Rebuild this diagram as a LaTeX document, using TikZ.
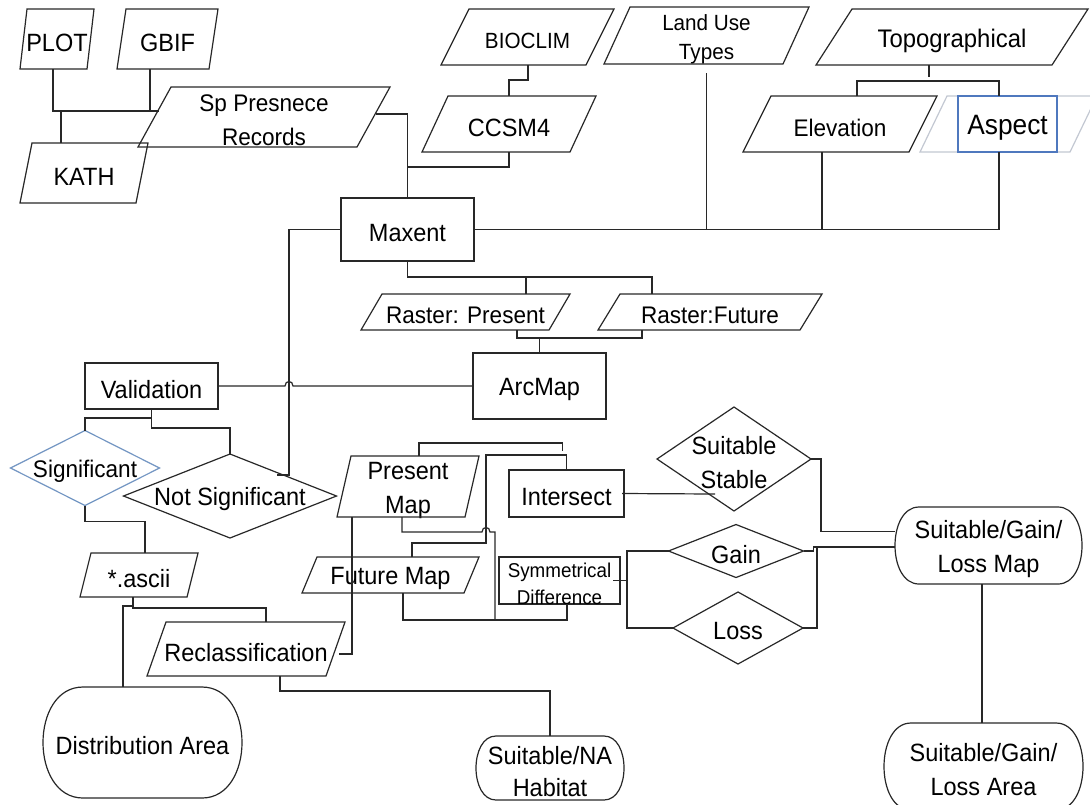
\documentclass[tikz,border=0pt]{standalone}
\usepackage{fontspec}
\setmainfont{Liberation Sans}[FakeStretch=0.94]
\usetikzlibrary{calc}
\definecolor{linec}{RGB}{40,40,40}
\definecolor{aspblue}{RGB}{79,120,190}
\definecolor{aspgray}{RGB}{195,200,210}
\definecolor{sigblue}{RGB}{115,150,195}
\newcommand\FS[2]{\fontsize{#1pt}{#2pt}\selectfont}
\tikzset{
  conn/.style={draw=linec, line width=0.6pt},
  pline/.style={draw=linec, line width=0.6pt},
  sbox/.style={inner sep=0pt, outer sep=0pt, draw=none},
  tbox/.style={inner sep=0pt, outer sep=0pt, align=center, text=black, font={\FS{12.5}{17}}},
}
% parallelogram: [opts]{name}{x1}{y1}{x2}{y2}{slant}{text}
\newcommand\PNode[8][]{%
  \node[sbox,minimum width={(#5-#3)*0.5pt},minimum height={(#6-#4)*0.5pt}] (#2) at ({(#3+#5)/2},{(#4+#6)/2}) {};
  \node[tbox,#1,draw=none] (#2-t) at ([yshift=-1.75pt]#2.center) {#8};
  \draw[pline,#1] ([shift={(#7,0)}]#2.north west) -- (#2.north east) -- ([shift={(-#7,0)}]#2.south east) -- (#2.south west) -- cycle;
}
% rectangle: [opts]{name}{x1}{y1}{x2}{y2}{text}
\newcommand\RNode[7][]{%
  \node[sbox,draw=linec,line width=0.6pt,#1,minimum width={(#5-#3)*0.5pt},minimum height={(#6-#4)*0.5pt}] (#2) at ({(#3+#5)/2},{(#4+#6)/2}) {};
  \node[tbox,#1,draw=none] (#2-t) at ([yshift=-1.75pt]#2.center) {#7};
}
% diamond: [opts]{name}{cx}{cy}{w}{h}{text}
\newcommand\DNode[7][]{%
  \node[sbox,minimum width={#5*0.5pt},minimum height={#6*0.5pt}] (#2) at (#3,#4) {};
  \node[tbox,#1,draw=none] (#2-t) at ([yshift=-1.75pt]#2.center) {#7};
  \draw[pline,#1] (#2.north) -- (#2.east) -- (#2.south) -- (#2.west) -- cycle;
}
% terminator: [opts]{name}{x1}{y1}{x2}{y2}{rx}{text}
\newcommand\TNode[8][]{%
  \node[sbox,minimum width={(#5-#3)*0.5pt},minimum height={(#6-#4)*0.5pt}] (#2) at ({(#3+#5)/2},{(#4+#6)/2}) {};
  \node[tbox,#1,draw=none] (#2-t) at ([yshift=-1.75pt]#2.center) {#8};
  \draw[pline,#1] ([shift={(#7,0)}]#2.north west) -- ([shift={(-#7,0)}]#2.north east)
    .. controls ([shift={(#7/3,0)}]#2.north east) and ([shift={(#7/3,0)}]#2.south east) .. ([shift={(-#7,0)}]#2.south east)
    -- ([shift={(#7,0)}]#2.south west)
    .. controls ([shift={(-#7/3,0)}]#2.south west) and ([shift={(-#7/3,0)}]#2.north west) .. cycle;
}
\begin{document}
\begin{tikzpicture}[x=0.5pt,y=-0.5pt]
\useasboundingbox (0,0) rectangle (1090,804);
\fill[white] (0,0) rectangle (1090,804);
\clip (0,0) rectangle (1090,804);

% ---------- nodes ----------
\PNode{plot}{20}{9}{94}{69}{7}{PLOT}
\PNode{gbif}{117}{9}{218}{69}{9}{GBIF}
\PNode[font={\FS{12}{17}}]{sp}{138}{87}{390}{147}{33}{Sp Presnece\\Records}
\PNode{kath}{20}{143}{148}{203}{12}{KATH}
\PNode[font={\FS{11}{14}}]{bioclim}{441}{9}{614}{65}{28}{BIOCLIM}
\PNode[font={\FS{11}{14.5}}]{landuse}{604}{7}{809}{64}{26}{Land Use\\Types}
\PNode{ccsm}{422}{96}{596}{152}{26}{CCSM4}
\PNode[font={\FS{12.7}{17}}]{topo}{816}{9}{1088}{65}{36}{Topographical}
\PNode[font={\FS{12}{17}}]{elev}{743}{96}{937}{152}{28}{Elevation}
\begin{scope}[pline/.style={draw=aspgray, line width=0.6pt}]
\PNode{asppara}{920}{96}{1097}{152}{27}{}
\end{scope}
\RNode[draw=aspblue,font={\FS{14}{17}}]{asprect}{958}{96}{1057}{152}{Aspect}
\RNode{maxent}{341}{198}{474}{261}{Maxent}
\PNode[font={\FS{12}{17}}]{rpres}{361}{294}{570}{330}{21}{Raster: Present}
\PNode[font={\FS{12}{17}}]{rfut}{598}{294}{822}{330}{22}{Raster:Future}
\RNode{arcmap}{473}{353}{606}{419}{ArcMap}
\RNode{valid}{85}{363}{218}{409}{Validation}
\DNode[draw=sigblue,font={\FS{12}{17}}]{signif}{85}{468}{149}{75}{Significant}
\DNode{notsig}{230}{496}{213}{84}{Not Significant}
\PNode{ascii}{80}{553}{198}{597}{11}{*.ascii}
\PNode{pmap}{337}{456}{479}{517}{14}{Present\\Map}
\RNode{intersect}{509}{470}{624}{517}{Intersect}
\PNode{fmap}{302}{557}{479}{593}{15}{Future Map}
\RNode[font={\FS{10}{13.5}}]{symdiff}{499}{557}{620}{604}{Symmetrical\\Difference}
\PNode{reclass}{147}{622}{345}{676}{19}{Reclassification}
\DNode{stable}{734}{459}{154}{104}{Suitable\\Stable}
\DNode{gain}{736}{551}{135}{53}{Gain}
\DNode{loss}{738}{628}{130}{72}{Loss}
\TNode{map}{895}{507}{1082}{584}{24}{Suitable/Gain/\\Loss Map}
\TNode{area}{884}{723}{1083}{810}{27}{Suitable/Gain/\\Loss Area}
\TNode{distrib}{43}{687}{242}{798}{40}{Distribution Area}
\TNode[font={\FS{12.5}{16}}]{suitna}{476}{736}{624}{800}{20}{Suitable/NA\\Habitat}

% ---------- connectors ----------
\coordinate (jsp) at (159,111);
\draw[conn] (plot.south -| 53,0) |- (jsp);
\draw[conn] (gbif.south -| 150,0) -- (jsp -| 150,0);
\draw[conn] (kath.north -| 61,0) -- (jsp -| 61,0);
\draw[conn] ([shift={(-14,-3)}]sp.east) -| (maxent.north);

\draw[conn] (bioclim.south -| 528,0) -- ++(0,15) -| (ccsm.north);
\draw[conn] (ccsm.south) |- (maxent.north |- 0,167);
\draw[conn] ([shift={(0,9)}]landuse.south) -- (landuse.south |- maxent.east);
\draw[conn] (maxent.east) -| (asprect.south -| 999,0);
\draw[conn] (elev.south -| 822,0) -- (maxent.east -| 822,0);
\draw[conn] (topo.south -| 929,0) -- ++(0,12);
\draw[conn] (elev.north -| 857,0) -- ++(0,-15) -| (asprect.north -| 999,0);

\coordinate (nsj) at ([shift={(47,-21)}]notsig.center);
\draw[conn] (maxent.west) -| (nsj -| 289,0) -- (nsj);
\draw[conn] (arcmap.west) -- (arcmap.west -| 293,0) .. controls (293,380) and (285,380) .. (285,386) -- (valid.east);

\draw[conn] (maxent.south) -- ++(0,16) -| (rfut.north -| 652,0);
\draw[conn] (rpres.north -| 526,0) -- ++(0,-17);
\draw[conn] (rpres.south -| 517,0) -- ++(0,8) -| (rfut.south -| 642,0);
\draw[conn] (arcmap.north) -- ++(0,-15);

\draw[conn] (valid.south) -- ++(0,19) -| (notsig.north);
\draw[conn] (valid.south |- 0,418) -| (signif.north);
\draw[conn] (signif.south) -- ++(0,16) -| (ascii.north -| 145,0);

\draw[conn] (ascii.south -| 133,0) -- ++(0,11) -| (reclass.north -| 266,0);
\draw[conn] (ascii.south -| 133,0) -- ++(0,9) -| (distrib.north -| 123,0);
\draw[conn] (reclass.south -| 280,0) -- ++(0,15) -| (suitna.north);

\draw[conn] (pmap.south -| 352,0) |- ([shift={(-6,5)}]reclass.east);
\coordinate (pdang) at ([shift={(-4,-19)}]intersect.north);
\draw[conn] (pmap.north -| 419,0) -- ++(0,-13) -| (pdang);
\draw[conn] (fmap.north -| 412,0) -- ++(0,-14) -| (486,455) -| (intersect.north);
\draw[conn] (pmap.south -| 402,0) |- (482,532) .. controls (482,526) and (490,526) .. (490,532) -- (495,532) -- (495,620);
\draw[conn] (fmap.south -| 403,0) -- ++(0,27) -| (symdiff.south -| 567,0);

\draw[conn] ([shift={(-2,0)}]intersect.east) -- ([shift={(-19,35)}]stable.center);
\draw[conn] ([shift={(-7,0)}]symdiff.east) -- (symdiff.east -| 627,0);
\draw[conn] (gain.west) -- (gain.west -| 627,0) |- (loss.west);

\draw[conn] (stable.east) -- ++(10,0) |- ([shift={(0,-14)}]map.west);
\coordinate (mj) at ([shift={(0,1.5)}]map.west);
\draw[conn] (gain.east) -- ++(10,0) |- (mj);
\draw[conn] (loss.east) -| (mj -| 817,0);
\draw[conn] (map.south -| 982,0) -- (area.north -| 982,0);
\end{tikzpicture}
\end{document}
